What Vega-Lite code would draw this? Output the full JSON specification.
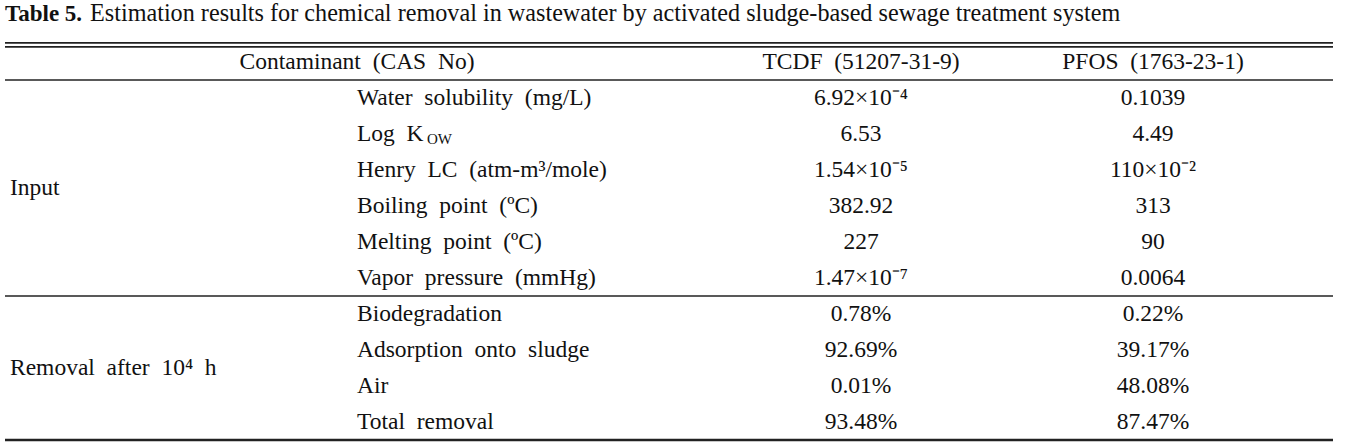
{
  "$schema": "https://vega.github.io/schema/vega-lite/v6.json",
  "width": 1328,
  "height": 443,
  "autosize": {"type": "none"},
  "padding": {"left": 5, "top": 0, "right": 20, "bottom": 0},
  "background": "white",
  "config": {"view": {"stroke": null}, "text": {"font": "Liberation Serif", "fontSize": 23.5, "color": "#111"}},
  "datasets": {
    "cells": [
      {"row": -1.32, "col": 0, "kind": "titleBold", "text": "Table 5."},
      {"row": -1.32, "col": 0, "kind": "title", "text": "Estimation results for chemical removal in wastewater by activated sludge-based sewage treatment system"},
      {"row": 0, "col": 1, "kind": "header", "text": "Contaminant \u00a0(CAS \u00a0No)"},
      {"row": 0, "col": 2, "kind": "header", "text": "TCDF \u00a0(51207-31-9)"},
      {"row": 0, "col": 3, "kind": "header", "text": "PFOS \u00a0(1763-23-1)"},
      {"row": 3.5, "col": 0, "kind": "group", "text": "Input"},
      {"row": 8.5, "col": 0, "kind": "group", "text": "Removal \u00a0after \u00a010⁴ \u00a0h"},
      {"row": 1, "col": 1, "kind": "param", "text": "Water \u00a0solubility \u00a0(mg/L)"},
      {"row": 2, "col": 1, "kind": "param", "text": "Log \u00a0K"},
      {"row": 2, "col": 1, "kind": "sub", "text": "OW"},
      {"row": 3, "col": 1, "kind": "param", "text": "Henry \u00a0LC \u00a0(atm-m³/mole)"},
      {"row": 4, "col": 1, "kind": "param", "text": "Boiling \u00a0point \u00a0(ºC)"},
      {"row": 5, "col": 1, "kind": "param", "text": "Melting \u00a0point \u00a0(ºC)"},
      {"row": 6, "col": 1, "kind": "param", "text": "Vapor \u00a0pressure \u00a0(mmHg)"},
      {"row": 7, "col": 1, "kind": "param", "text": "Biodegradation"},
      {"row": 8, "col": 1, "kind": "param", "text": "Adsorption \u00a0onto \u00a0sludge"},
      {"row": 9, "col": 1, "kind": "param", "text": "Air"},
      {"row": 10, "col": 1, "kind": "param", "text": "Total \u00a0removal"},
      {"row": 1, "col": 2, "kind": "value", "text": "6.92×10⁻⁴"},
      {"row": 2, "col": 2, "kind": "value", "text": "6.53"},
      {"row": 3, "col": 2, "kind": "value", "text": "1.54×10⁻⁵"},
      {"row": 4, "col": 2, "kind": "value", "text": "382.92"},
      {"row": 5, "col": 2, "kind": "value", "text": "227"},
      {"row": 6, "col": 2, "kind": "value", "text": "1.47×10⁻⁷"},
      {"row": 7, "col": 2, "kind": "value", "text": "0.78%"},
      {"row": 8, "col": 2, "kind": "value", "text": "92.69%"},
      {"row": 9, "col": 2, "kind": "value", "text": "0.01%"},
      {"row": 10, "col": 2, "kind": "value", "text": "93.48%"},
      {"row": 1, "col": 3, "kind": "value", "text": "0.1039"},
      {"row": 2, "col": 3, "kind": "value", "text": "4.49"},
      {"row": 3, "col": 3, "kind": "value", "text": "110×10⁻²"},
      {"row": 4, "col": 3, "kind": "value", "text": "313"},
      {"row": 5, "col": 3, "kind": "value", "text": "90"},
      {"row": 6, "col": 3, "kind": "value", "text": "0.0064"},
      {"row": 7, "col": 3, "kind": "value", "text": "0.22%"},
      {"row": 8, "col": 3, "kind": "value", "text": "39.17%"},
      {"row": 9, "col": 3, "kind": "value", "text": "48.08%"},
      {"row": 10, "col": 3, "kind": "value", "text": "87.47%"}
    ],
    "lines": [
      {"row": -0.53, "kind": "top", "w": 1.6},
      {"row": -0.42, "kind": "top", "w": 1.6},
      {"row": 0.5, "kind": "mid", "w": 1.6},
      {"row": 6.5, "kind": "mid", "w": 1.4},
      {"row": 10.5, "kind": "bottom", "w": 2.4}
    ]
  },
  "layer": [
    {
      "data": {"name": "lines"},
      "mark": {"type": "rule", "color": "#222"},
      "encoding": {
        "y": {"field": "row", "type": "quantitative", "scale": {"domain": [-1.5, 10.5], "range": [8, 440]}, "axis": null},
        "strokeWidth": {"field": "w", "type": "quantitative", "scale": null, "legend": null}
      }
    },
    {
      "data": {"name": "cells"},
      "transform": [{"filter": "datum.kind === 'titleBold'"}],
      "mark": {"type": "text", "align": "left", "baseline": "middle", "fontWeight": "bold", "fontSize": 23, "dx": -5},
      "encoding": {
        "x": {"field": "col", "type": "quantitative", "scale": {"domain": [0, 1, 2, 3], "range": [5, 352, 856, 1148]}, "axis": null},
        "y": {"field": "row", "type": "quantitative", "scale": {"domain": [-1.5, 10.5], "range": [8, 440]}, "axis": null},
        "text": {"field": "text"}
      }
    },
    {
      "data": {"name": "cells"},
      "transform": [{"filter": "datum.kind === 'title'"}],
      "mark": {"type": "text", "align": "left", "baseline": "middle", "fontSize": 24.2, "dx": 80},
      "encoding": {
        "x": {"field": "col", "type": "quantitative", "scale": {"domain": [0, 1, 2, 3], "range": [5, 352, 856, 1148]}, "axis": null},
        "y": {"field": "row", "type": "quantitative", "scale": {"domain": [-1.5, 10.5], "range": [8, 440]}, "axis": null},
        "text": {"field": "text"}
      }
    },
    {
      "data": {"name": "cells"},
      "transform": [{"filter": "datum.kind === 'header' || datum.kind === 'value'"}],
      "mark": {"type": "text", "align": "center", "baseline": "middle"},
      "encoding": {
        "x": {"field": "col", "type": "quantitative", "scale": {"domain": [0, 1, 2, 3], "range": [5, 352, 856, 1148]}, "axis": null},
        "y": {"field": "row", "type": "quantitative", "scale": {"domain": [-1.5, 10.5], "range": [8, 440]}, "axis": null},
        "text": {"field": "text"}
      }
    },
    {
      "data": {"name": "cells"},
      "transform": [{"filter": "datum.kind === 'group' || datum.kind === 'param'"}],
      "mark": {"type": "text", "align": "left", "baseline": "middle"},
      "encoding": {
        "x": {"field": "col", "type": "quantitative", "scale": {"domain": [0, 1, 2, 3], "range": [5, 352, 856, 1148]}, "axis": null},
        "y": {"field": "row", "type": "quantitative", "scale": {"domain": [-1.5, 10.5], "range": [8, 440]}, "axis": null},
        "text": {"field": "text"}
      }
    },
    {
      "data": {"name": "cells"},
      "transform": [{"filter": "datum.kind === 'sub'"}],
      "mark": {"type": "text", "align": "left", "baseline": "middle", "fontSize": 15, "dx": 70, "dy": 5},
      "encoding": {
        "x": {"field": "col", "type": "quantitative", "scale": {"domain": [0, 1, 2, 3], "range": [5, 352, 856, 1148]}, "axis": null},
        "y": {"field": "row", "type": "quantitative", "scale": {"domain": [-1.5, 10.5], "range": [8, 440]}, "axis": null},
        "text": {"field": "text"}
      }
    }
  ]
}
